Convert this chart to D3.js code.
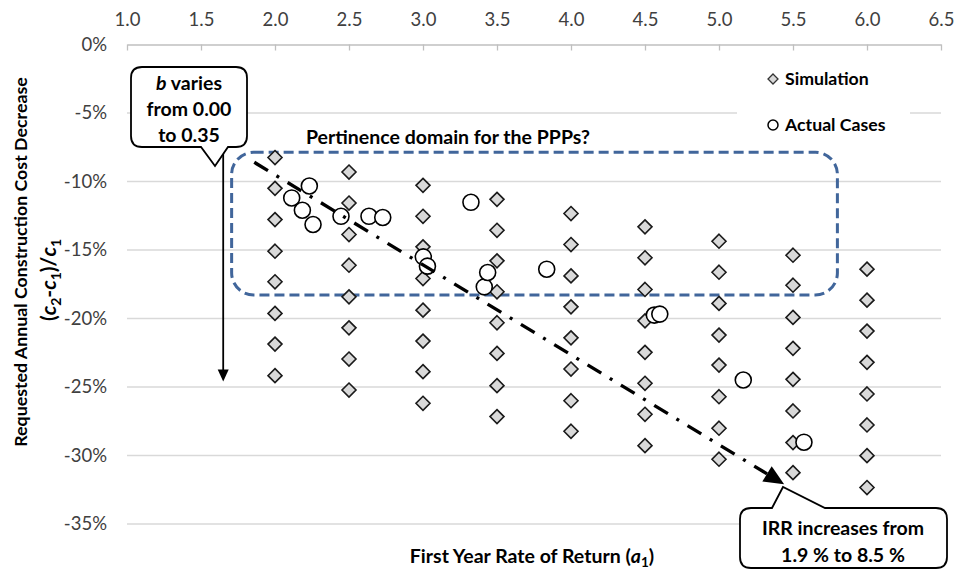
<!DOCTYPE html>
<html><head><meta charset="utf-8">
<script src="https://cdn.jsdelivr.net/npm/d3@7"></script>
<style>
body{margin:0;background:#fff;}
text{font-family:Lato,"Liberation Sans",sans-serif;}
</style></head>
<body><svg id="chart" width="954" height="572"></svg>
<script>
// ---------- DATA ----------
const xTicks = [1.0,1.5,2.0,2.5,3.0,3.5,4.0,4.5,5.0,5.5,6.0,6.5];
const yTicks = [0,-5,-10,-15,-20,-25,-30,-35];
const simX = [2.0,2.5,3.0,3.5,4.0,4.5,5.0,5.5,6.0];
// simulation values (%) per a1 column, b = 0.00 ... 0.35
const sim20 = [-8.25,-10.5,-12.78,-15.09,-17.32,-19.63,-21.87,-24.17];
const sim25 = [-9.31,-11.57,-13.87,-16.11,-18.42,-20.68,-22.96,-25.22];
const sim30 = [-10.28,-12.54,-14.77,-17.08,-19.39,-21.65,-23.88,-26.19];
const sim35 = [-11.30,-13.56,-15.79,-18.05,-20.31,-22.55,-24.90,-27.16];
const sim40 = [-12.34,-14.6,-16.89,-19.15,-21.41,-23.69,-26.0,-28.23];
const sim45 = [-13.31,-15.57,-17.88,-20.17,-22.47,-24.73,-26.99,-29.28];
const sim50 = [-14.36,-16.62,-18.9,-21.21,-23.4,-25.71,-28.01,-30.27];
const sim55 = [-15.38,-17.57,-19.92,-22.18,-24.44,-26.75,-29.06,-31.25];
const sim60 = [-16.4,-18.66,-20.92,-23.2,-25.51,-27.77,-30.01,-32.34];
const actualX = [2.113,2.185,2.232,2.257,2.446,2.635,2.728,3.002,3.03,3.324,3.414,3.437,3.836,4.563,4.6,5.164,5.574];
const actualY = [-11.2,-12.1,-10.33,-13.14,-12.54,-12.54,-12.63,-15.5,-16.18,-11.52,-17.69,-16.64,-16.4,-19.75,-19.68,-24.49,-29.03];
const trendX = [1.86,5.44];
const trendY = [-8.6,-32.1];
const domainX = [1.707,5.80];
const domainY = [-7.87,-18.28];
const bArrowX = 1.65;
const bArrowY = [-7.7,-24.6];

// ---------- CHART ----------
const svg = d3.select("#chart");
const x = d3.scaleLinear().domain([1,6.5]).range([127,941]);
const y = d3.scaleLinear().domain([-35,0]).range([524,44.5]);
const simCols = [sim20,sim25,sim30,sim35,sim40,sim45,sim50,sim55,sim60];
const simPts = [];
simX.forEach((xv,i)=>simCols[i].forEach(v=>simPts.push([xv,v])));
const actPts = actualX.map((xv,i)=>[xv,actualY[i]]);

// gridlines
svg.append("g").selectAll("line").data(yTicks.filter(d=>d<0)).join("line")
  .attr("x1",x(1)).attr("x2",x(6.5)).attr("y1",d=>y(d)).attr("y2",d=>y(d))
  .attr("stroke","#d9d9d9").attr("stroke-width",1.3);

// top x axis
const xAxis = d3.axisTop(x).tickValues(xTicks).tickFormat(d3.format(".1f"))
  .tickSizeInner(-6).tickSizeOuter(0).tickPadding(19);
const gx = svg.append("g").attr("transform",`translate(0,${y(0)})`).call(xAxis);
gx.select(".domain").attr("stroke","#bfbfbf").attr("stroke-width",1.3);
gx.selectAll(".tick line").attr("stroke","#bfbfbf").attr("stroke-width",1.3);
gx.selectAll(".tick text").attr("font-size",18.5).attr("fill","#404040").attr("font-family","Lato");

// left y axis (labels only)
const yAxis = d3.axisLeft(y).tickValues(yTicks).tickFormat(d=>d+"%").tickSize(0).tickPadding(20);
const gy = svg.append("g").attr("transform",`translate(${x(1)},0)`).call(yAxis);
gy.select(".domain").remove();
gy.selectAll(".tick text").attr("font-size",18.5).attr("fill","#404040").attr("font-family","Lato");

// legend background
svg.append("rect").attr("x",737).attr("y",58).attr("width",173).attr("height",88).attr("fill","#fff");

// pertinence domain box
svg.append("rect")
  .attr("x",x(domainX[0])).attr("y",y(domainY[0]))
  .attr("width",x(domainX[1])-x(domainX[0])).attr("height",y(domainY[1])-y(domainY[0]))
  .attr("rx",22).attr("ry",22).attr("fill","none")
  .attr("stroke","#41669b").attr("stroke-width",3).attr("stroke-dasharray","10,5");
svg.append("text").attr("x",306).attr("y",144).attr("font-size",19.5).attr("font-weight","bold")
  .text("Pertinence domain for the PPPs?");

// simulation diamonds
const diamond = (cx,cy,s)=>`M${cx},${cy-s}L${cx+s},${cy}L${cx},${cy+s}L${cx-s},${cy}Z`;
svg.append("g").selectAll("path").data(simPts).join("path")
  .attr("d",d=>diamond(x(d[0]),y(d[1]),7))
  .attr("fill","#d9d9d9").attr("stroke","#1a1a1a").attr("stroke-width",1.6);

// actual cases circles
svg.append("g").selectAll("circle").data(actPts).join("circle")
  .attr("cx",d=>x(d[0])).attr("cy",d=>y(d[1])).attr("r",8)
  .attr("fill","#fff").attr("stroke","#000").attr("stroke-width",1.6);

// trend line with arrow
const tx0=x(trendX[0]), ty0=y(trendY[0]), tx1=x(trendX[1]), ty1=y(trendY[1]);
const ang = Math.atan2(ty1-ty0, tx1-tx0);
const aL=20, aW=9;
const bx = tx1-aL*Math.cos(ang), by = ty1-aL*Math.sin(ang);
svg.append("line").attr("x1",tx0).attr("y1",ty0).attr("x2",bx).attr("y2",by)
  .attr("stroke","#000").attr("stroke-width",3.4).attr("stroke-dasharray","16,10,3,10");
svg.append("path").attr("d",`M${tx1},${ty1}L${bx+aW*Math.sin(ang)},${by-aW*Math.cos(ang)}L${bx-aW*Math.sin(ang)},${by+aW*Math.cos(ang)}Z`)
  .attr("fill","#000");

// b-varies arrow
const bax = x(bArrowX);
svg.append("line").attr("x1",bax).attr("x2",bax).attr("y1",y(bArrowY[0])).attr("y2",y(bArrowY[1])-11)
  .attr("stroke","#000").attr("stroke-width",1.8);
svg.append("path").attr("d",`M${bax},${y(bArrowY[1])}L${bax-5.5},${y(bArrowY[1])-12}L${bax+5.5},${y(bArrowY[1])-12}Z`).attr("fill","#000");

// callouts
function callout(L,T,R,B,r,pts,top){
  let p=`M${L+r},${T}`;
  if(top){ p+=`H${pts[0][0]}L${pts[1][0]},${pts[1][1]}L${pts[2][0]},${T}`; }
  p+=`H${R-r}Q${R},${T} ${R},${T+r}V${B-r}Q${R},${B} ${R-r},${B}`;
  if(!top){ p+=`H${pts[0][0]}L${pts[1][0]},${pts[1][1]}L${pts[2][0]},${B}`; }
  p+=`H${L+r}Q${L},${B} ${L},${B-r}V${T+r}Q${L},${T} ${L+r},${T}Z`;
  return p;
}
svg.append("path").attr("d",callout(131,67,247,147,11,[[228],[215,166],[201]],false))
  .attr("fill","#fff").attr("stroke","#000").attr("stroke-width",1.8);
const c1 = svg.append("text").attr("text-anchor","middle").attr("font-size",19.5).attr("font-weight","bold");
const l1 = c1.append("tspan").attr("x",189).attr("y",90);
l1.append("tspan").attr("font-style","italic").text("b");
l1.append("tspan").text(" varies");
c1.append("tspan").attr("x",189).attr("y",116).text("from 0.00");
c1.append("tspan").attr("x",189).attr("y",142).text("to 0.35");

svg.append("path").attr("d",callout(740,508,947,568,11,[[772],[783,487],[825]],true))
  .attr("fill","#fff").attr("stroke","#000").attr("stroke-width",1.8);
const c2 = svg.append("text").attr("text-anchor","middle").attr("font-size",19.5).attr("font-weight","bold");
c2.append("tspan").attr("x",843).attr("y",535).text("IRR increases from");
c2.append("tspan").attr("x",843).attr("y",562).text("1.9 % to 8.5 %");

// legend
svg.append("path").attr("d",diamond(773,79,5)).attr("fill","#d9d9d9").attr("stroke","#333").attr("stroke-width",1.3);
svg.append("text").attr("x",785).attr("y",85).attr("font-size",17.7).attr("font-weight","bold").text("Simulation");
svg.append("circle").attr("cx",773).attr("cy",125).attr("r",5).attr("fill","#fff").attr("stroke","#000").attr("stroke-width",1.5);
svg.append("text").attr("x",785).attr("y",131).attr("font-size",17.7).attr("font-weight","bold").text("Actual Cases");

// axis titles
const xt = svg.append("text").attr("x",532).attr("y",563).attr("text-anchor","middle")
  .attr("font-size",19.5).attr("font-weight","bold");
xt.append("tspan").text("First Year Rate of Return (");
xt.append("tspan").attr("font-style","italic").text("a");
xt.append("tspan").attr("font-size",13.5).attr("dy",4).text("1");
xt.append("tspan").attr("dy",-4).text(")");

svg.append("text").attr("transform","translate(27,262) rotate(-90)").attr("text-anchor","middle")
  .attr("font-size",17.8).attr("font-weight","bold").text("Requested Annual Construction Cost Decrease");
const yt2 = svg.append("text").attr("transform","translate(56,280) rotate(-90)").attr("text-anchor","middle")
  .attr("font-size",21).attr("font-weight","bold");
yt2.append("tspan").text("(");
yt2.append("tspan").attr("font-style","italic").text("c");
yt2.append("tspan").attr("font-size",14).attr("dy",5).text("2");
yt2.append("tspan").attr("dy",-5).text("-");
yt2.append("tspan").attr("font-style","italic").text("c");
yt2.append("tspan").attr("font-size",14).attr("dy",5).text("1");
yt2.append("tspan").attr("dy",-5).text(")/");
yt2.append("tspan").attr("font-style","italic").text("c");
yt2.append("tspan").attr("font-size",14).attr("dy",5).text("1");
</script></body></html>
